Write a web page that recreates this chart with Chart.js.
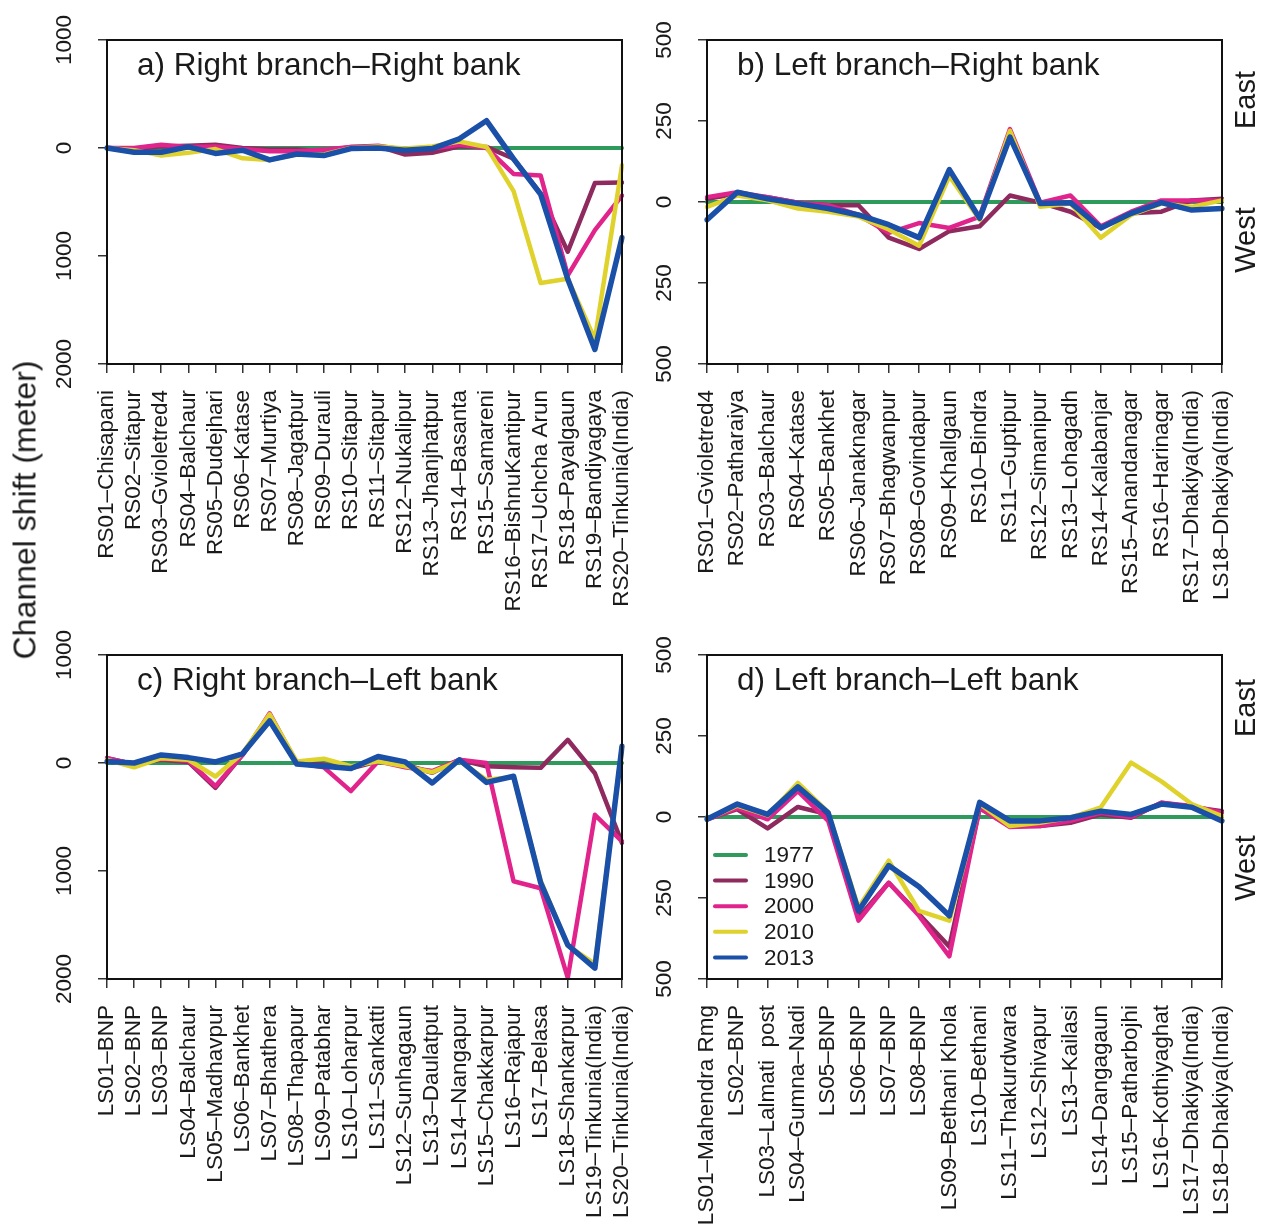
<!DOCTYPE html>
<html>
<head>
<meta charset="utf-8">
<title>Channel shift</title>
<script src="https://cdn.jsdelivr.net/npm/chart.js@4.4.1/dist/chart.umd.min.js"></script>
<style>
    body { margin: 0; background: #fff; }
    #wrap { position: relative; width: 1266px; height: 1224px; overflow: hidden; background: #fff; }
    #wrap canvas { position: absolute; left: 0; top: 0; }
    .side { position: absolute; font-family: 'Liberation Sans', Arial, sans-serif; color: #1a1a1a;
            white-space: nowrap; transform: translate(-50%, -50%) rotate(-90deg); }
</style>
</head>
<body>
<div id="wrap">
    <canvas id="chartA" width="1266" height="1224"></canvas>
    <canvas id="chartB" width="1266" height="1224"></canvas>
    <canvas id="chartC" width="1266" height="1224"></canvas>
    <canvas id="chartD" width="1266" height="1224"></canvas>
    <div class="side" style="left:25px; top:510px; font-size:32px;">Channel shift (meter)</div>
    <div class="side" style="left:1245px; top:100px; font-size:29px;">East</div>
    <div class="side" style="left:1245px; top:240px; font-size:29px;">West</div>
    <div class="side" style="left:1245px; top:708px; font-size:29px;">East</div>
    <div class="side" style="left:1245px; top:868px; font-size:29px;">West</div>
</div>
<script>
// Station labels for each panel
const stationsA = ['RS01–Chisapani', 'RS02–Sitapur', 'RS03–Gvioletred4', 'RS04–Balchaur', 'RS05–Dudejhari',
    'RS06–Katase', 'RS07–Murtiya', 'RS08–Jagatpur', 'RS09–Durauli', 'RS10–Sitapur', 'RS11–Sitapur',
    'RS12–Nukalipur', 'RS13–Jhanjhatpur', 'RS14–Basanta', 'RS15–Samareni', 'RS16–BishnuKantipur',
    'RS17–Uchcha Arun', 'RS18–Payalgaun', 'RS19–Bandiyagaya', 'RS20–Tinkunia(India)'];
const stationsB = ['RS01–Gvioletred4', 'RS02–Patharaiya', 'RS03–Balchaur', 'RS04–Katase', 'RS05–Bankhet',
    'RS06–Janaknagar', 'RS07–Bhagwanpur', 'RS08–Govindapur', 'RS09–Khallgaun', 'RS10–Bindra',
    'RS11–Guptipur', 'RS12–Simanipur', 'RS13–Lohagadh', 'RS14–Kalabanjar', 'RS15–Anandanagar',
    'RS16–Harinagar', 'RS17–Dhakiya(India)', 'LS18–Dhakiya(India)'];
const stationsC = ['LS01–BNP', 'LS02–BNP', 'LS03–BNP', 'LS04–Balchaur', 'LS05–Madhavpur', 'LS06–Bankhet',
    'LS07–Bhathera', 'LS08–Thapapur', 'LS09–Patabhar', 'LS10–Loharpur', 'LS11–Sankatti', 'LS12–Sunhagaun',
    'LS13–Daulatput', 'LS14–Nangapur', 'LS15–Chakkarpur', 'LS16–Rajapur', 'LS17–Belasa', 'LS18–Shankarpur',
    'LS19–Tinkunia(India)', 'LS20–Tinkunia(India)'];
const stationsD = ['LS01–Mahendra Rmg', 'LS02–BNP', 'LS03–Lalmati  post', 'LS04–Gumna–Nadi', 'LS05–BNP',
    'LS06–BNP', 'LS07–BNP', 'LS08–BNP', 'LS09–Bethani Khola', 'LS10–Bethani', 'LS11–Thakurdwara',
    'LS12–Shivapur', 'LS13–Kailasi', 'LS14–Dangagaun', 'LS15–Patharbojhi', 'LS16–Kothiyaghat',
    'LS17–Dhakiya(India)', 'LS18–Dhakiya(India)'];

const years = ['1977', '1990', '2000', '2010', '2013'];

// a) Right branch - Right bank (m, east positive)
const a1977 = [0, 0, 0, 0, 0, 0, 0, 0, 0, 0, 0, 0, 0, 0, 0, 0, 0, 0, 0, 0];
const a1990 = [0, -10, 15, 20, 30, 0, -15, -15, -30, 10, 15, -60, -45, 15, 10, -100, -420, -960, -325, -320];
const a2000 = [0, 0, 30, 10, 15, -10, -30, -30, -15, 10, 20, -15, -5, 30, 0, -240, -255, -1180, -760, -440];
const a2010 = [0, -20, -70, -45, -10, -95, -110, -60, -60, 0, 15, -5, 15, 60, 10, -400, -1250, -1210, -1770, -160];
const a2013 = [0, -40, -40, 10, -50, -20, -110, -55, -70, -5, 0, -20, -5, 85, 253, -100, -430, -1215, -1865, -830];

// b) Left branch - Right bank
const b1977 = [0, 0, 0, 0, 0, 0, 0, 0, 0, 0, 0, 0, 0, 0, 0, 0, 0, 0];
const b1990 = [10, 25, 15, -2, -10, -10, -110, -145, -90, -75, 20, -2, -30, -80, -35, -30, 5, 10];
const b2000 = [15, 30, 15, -2, -10, -40, -95, -65, -80, -45, 225, -2, 20, -75, -30, 5, 5, 5];
const b2010 = [-15, 20, 5, -20, -30, -45, -85, -135, 80, -55, 220, -15, -5, -110, -40, -5, -15, 5];
const b2013 = [-55, 30, 10, -5, -20, -40, -70, -110, 100, -50, 200, -5, -2, -80, -35, -2, -25, -20];

// c) Right branch - Left bank
const c1977 = [0, 0, 0, 0, 0, 0, 0, 0, 0, 0, 0, 0, 0, 0, 0, 0, 0, 0, 0, 0];
const c1990 = [45, -10, 30, 10, -230, 75, 430, 0, -15, -50, 15, -15, -90, 30, -30, -40, -45, 215, -95, -740];
const c2000 = [45, -10, 40, 20, -215, 75, 460, 0, -40, -260, 15, -40, -75, 30, 0, -1095, -1160, -1990, -480, -725];
const c2010 = [30, -40, 45, 30, -125, 90, 450, 15, 40, -30, 15, -30, -85, 20, -155, -130, -1090, -1690, -1860, 150];
const c2013 = [15, 0, 75, 50, 10, 85, 390, -10, -30, -50, 60, 10, -185, 30, -180, -123, -1110, -1685, -1900, 155];

// d) Left branch - Left bank
const d1977 = [0, 0, 0, 0, 0, 0, 0, 0, 0, 0, 0, 0, 0, 0, 0, 0, 0, 0];
const d1990 = [-7, 24, -35, 31, 8, -310, -203, -300, -400, 27, -28, -28, -18, 8, -2, 44, 31, 18];
const d2000 = [-7, 27, -7, 80, -12, -320, -203, -305, -430, 28, -31, -28, -12, 13, 0, 44, 34, 13];
const d2010 = [-7, 35, 5, 105, 15, -280, -135, -290, -320, 40, -28, -18, -2, 30, 168, 110, 40, 3];
const d2013 = [-7, 40, 8, 93, 13, -290, -150, -215, -305, 45, -12, -12, -2, 18, 8, 40, 30, -12];

const yearColors = ['#2e9a5c', '#8f2a5f', '#e0248c', '#e0d22c', '#1a50a8'];
const yearWidths = [4, 4.5, 4.5, 4.5, 5.5];

const FONT = "'Liberation Sans', Arial, Helvetica, sans-serif";
const W = 1266, H = 1224;

Chart.defaults.font.family = FONT;
Chart.defaults.color = '#1a1a1a';

function buildDatasets(seriesList) {
    return seriesList.map((values, i) => ({
        label: years[i],
        data: values,
        borderColor: yearColors[i],
        backgroundColor: yearColors[i],
        borderWidth: yearWidths[i],
        pointRadius: 0,
        tension: 0,
        fill: false,
        borderCapStyle: 'round',
        borderJoinStyle: 'round',
        order: seriesList.length - i
    }));
}

// Box, rotated y labels, panel title and (optionally) legend
function decorPlugin(title, showLegend) {
    return {
        id: 'decor',
        afterDraw(chart) {
            const ctx = chart.ctx;
            const area = chart.chartArea;
            const yScale = chart.scales.y;

            ctx.save();
            ctx.strokeStyle = '#111';
            ctx.lineWidth = 2;
            ctx.strokeRect(area.left, area.top, area.right - area.left, area.bottom - area.top);

            // y tick labels, written bottom to top
            ctx.fillStyle = '#1a1a1a';
            ctx.font = '22.5px ' + FONT;
            ctx.textAlign = 'center';
            ctx.textBaseline = 'middle';
            yScale.ticks.forEach(t => {
                const py = yScale.getPixelForValue(t.value);
                ctx.save();
                ctx.translate(area.left - 42, py);
                ctx.rotate(-Math.PI / 2);
                ctx.fillText(String(Math.abs(t.value)), 0, 0);
                ctx.restore();
            });

            // title inside the plot
            ctx.textAlign = 'left';
            ctx.textBaseline = 'alphabetic';
            ctx.font = '31.5px ' + FONT;
            ctx.fillText(title, area.left + 30, area.top + 35);

            if (showLegend) {
                ctx.font = '22.5px ' + FONT;
                ctx.textBaseline = 'middle';
                chart.data.datasets.forEach((ds, i) => {
                    const ly = area.top + 200 + i * 25.6;
                    ctx.strokeStyle = ds.borderColor;
                    ctx.lineWidth = 4;
                    ctx.lineCap = 'round';
                    ctx.beginPath();
                    ctx.moveTo(area.left + 8, ly);
                    ctx.lineTo(area.left + 39, ly);
                    ctx.stroke();
                    ctx.fillStyle = '#1a1a1a';
                    ctx.fillText(ds.label, area.left + 57, ly + 1);
                });
            }
            ctx.restore();
        }
    };
}

function createPanel(canvasId, area, labels, seriesList, yMin, yMax, step, title, showLegend) {
    const ctx = document.getElementById(canvasId).getContext('2d');

    const config = {
        type: 'line',
        data: {
            labels: labels,
            datasets: buildDatasets(seriesList)
        },
        options: {
            responsive: false,
            animation: false,
            devicePixelRatio: 1,
            layout: {
                padding: { top: area.top, left: 0, right: W - area.right, bottom: 0 }
            },
            plugins: {
                legend: { display: false },
                tooltip: { enabled: false },
                title: { display: false }
            },
            scales: {
                x: {
                    type: 'category',
                    offset: false,
                    ticks: {
                        autoSkip: false,
                        minRotation: 90,
                        maxRotation: 90,
                        padding: 17,
                        color: '#1a1a1a',
                        font: { size: 22.5 }
                    },
                    grid: { drawOnChartArea: false, drawTicks: true, tickLength: 9, color: '#333', lineWidth: 1.5 },
                    border: { display: true, color: '#111', width: 2 },
                    afterFit(scale) {
                        scale.height = H - area.bottom;
                        scale.paddingLeft = 0;
                        scale.paddingRight = 0;
                    }
                },
                y: {
                    min: yMin,
                    max: yMax,
                    ticks: {
                        stepSize: step,
                        callback: () => ''
                    },
                    grid: { drawOnChartArea: false, drawTicks: true, tickLength: 9, color: '#333', lineWidth: 1.5 },
                    border: { display: true, color: '#111', width: 2 },
                    afterFit(scale) {
                        scale.width = area.left;
                        scale.paddingTop = 0;
                        scale.paddingBottom = 0;
                    }
                }
            }
        },
        plugins: [decorPlugin(title, showLegend)]
    };

    new Chart(ctx, config);
}

createPanel('chartA', { left: 107, right: 622, top: 40, bottom: 364 }, stationsA,
    [a1977, a1990, a2000, a2010, a2013], -2000, 1000, 1000, 'a) Right branch–Right bank', false);
createPanel('chartB', { left: 707, right: 1222, top: 40, bottom: 364 }, stationsB,
    [b1977, b1990, b2000, b2010, b2013], -500, 500, 250, 'b) Left branch–Right bank', false);
createPanel('chartC', { left: 107, right: 622, top: 655, bottom: 979 }, stationsC,
    [c1977, c1990, c2000, c2010, c2013], -2000, 1000, 1000, 'c) Right branch–Left bank', false);
createPanel('chartD', { left: 707, right: 1222, top: 655, bottom: 979 }, stationsD,
    [d1977, d1990, d2000, d2010, d2013], -500, 500, 250, 'd) Left branch–Left bank', true);
</script>
</body>
</html>
